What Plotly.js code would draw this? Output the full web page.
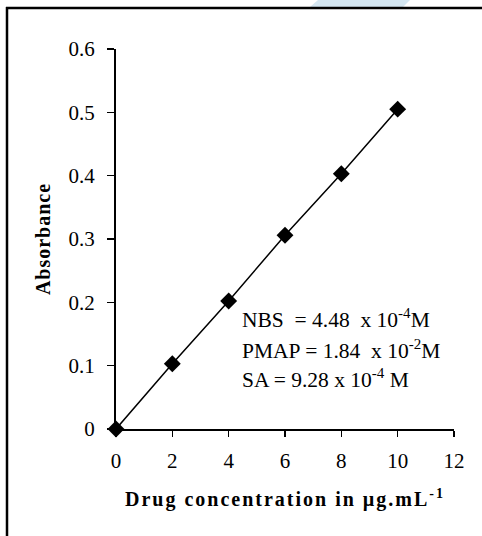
<!DOCTYPE html>
<html>
<head>
<meta charset="utf-8">
<script src="https://cdn.plot.ly/plotly-3.0.1.min.js"></script>
<style>
html,body{margin:0;padding:0;background:#fff;}
#chart{width:482px;height:536px;}
#chart .xtitle{letter-spacing:2px;}
#chart .ytitle{letter-spacing:1px;}
</style>
</head>
<body>
<div id="chart"></div>
<script>
const concentration = [0, 2, 4, 6, 8, 10];
const absorbance = [0, 0.103, 0.202, 0.306, 0.403, 0.505];
const xTicks = [0, 2, 4, 6, 8, 10, 12];
const yTicks = [0, 0.1, 0.2, 0.3, 0.4, 0.5, 0.6];
const yTickLabels = ['0', '0.1', '0.2', '0.3', '0.4', '0.5', '0.6'];
const noteLines = ['NBS  = 4.48  x 10<sup>-4</sup>M', 'PMAP = 1.84  x 10<sup>-2</sup>M', 'SA = 9.28 x 10<sup>-4</sup> M'];

const L = 116, R = 28, T = 49, B = 107, W = 482, H = 536;
const pw = W - L - R, ph = H - T - B;
const px = v => (v - L) / pw;
const py = v => (H - B - v) / ph;

const serif = '"Liberation Serif", "Times New Roman", serif';

const trace = {
  x: concentration, y: absorbance, type: 'scatter', mode: 'lines+markers',
  line: {color: '#000', width: 1.5},
  marker: {symbol: 'diamond', size: 13, color: '#000'},
  cliponaxis: false, hoverinfo: 'none'
};

const layout = {
  width: W, height: H,
  margin: {l: L, r: R, t: T, b: B},
  paper_bgcolor: '#fff', plot_bgcolor: '#fff',
  showlegend: false,
  font: {family: serif, color: '#000', size: 16},
  xaxis: {
    range: [0, 12], tickvals: xTicks, ticktext: xTicks.map(String),
    showgrid: false, zeroline: false, showline: true, linecolor: '#000', linewidth: 2,
    ticks: 'outside', ticklen: 6, tickwidth: 1.5, tickcolor: '#000',
    tickfont: {family: serif, size: 21}, ticklabelstandoff: 6,
    title: {text: '<b>Drug concentration in µg.mL<sup>-1</sup></b>', font: {family: serif, size: 20}, standoff: 20}
  },
  yaxis: {
    range: [0, 0.6], tickvals: yTicks, ticktext: yTickLabels,
    showgrid: false, zeroline: false, showline: true, linecolor: '#000', linewidth: 2,
    ticks: 'outside', ticklen: 7, tickwidth: 1.5, tickcolor: '#000',
    tickfont: {family: serif, size: 21}, ticklabelstandoff: 8,
    title: {text: '<b>Absorbance</b>', font: {family: serif, size: 20}, standoff: 13}
  },
  annotations: noteLines.map((t, i) => ({
    xref: 'paper', yref: 'paper', x: px(240), y: py([318, 349, 378][i]),
    xanchor: 'left', yanchor: 'middle', showarrow: false, text: t,
    font: {family: serif, size: 21.5, color: '#000'}
  })),
  shapes: [
    {type: 'path', xref: 'paper', yref: 'paper', layer: 'below',
     path: `M ${px(318)} ${py(0)} L ${px(410)} ${py(0)} L ${px(403)} ${py(7)} L ${px(310)} ${py(7)} Z`,
     fillcolor: '#d4e6f1', line: {width: 0}},
    {type: 'line', xref: 'paper', yref: 'paper', x0: px(6), x1: px(482), y0: py(8), y1: py(8),
     line: {color: '#000', width: 2.5}},
    {type: 'line', xref: 'paper', yref: 'paper', x0: px(7), x1: px(7), y0: py(7), y1: py(536),
     line: {color: '#000', width: 2.5}}
  ]
};

Plotly.newPlot('chart', [trace], layout, {staticPlot: true, displayModeBar: false});
</script>
</body>
</html>
